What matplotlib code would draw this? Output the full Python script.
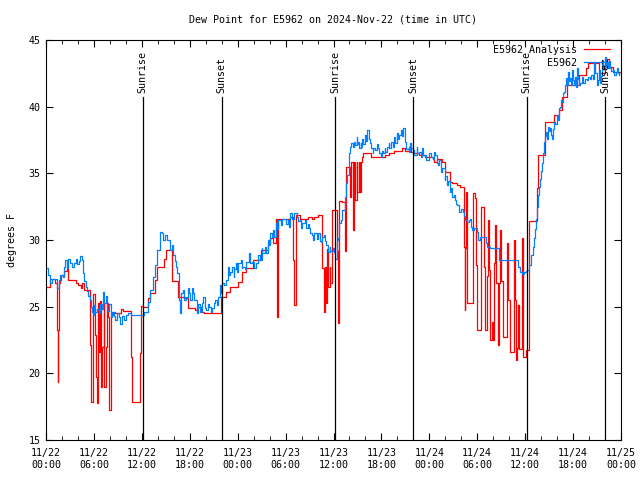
import matplotlib
matplotlib.use("Agg")
import matplotlib.pyplot as plt
from matplotlib.ticker import MultipleLocator

plt.rcParams["font.family"] = "DejaVu Sans Mono"
plt.rcParams["font.size"] = 7.2

# hours since 2024-11-22 00:00 UTC
obs_hours = [
    0.0, 0.3, 0.5, 0.8, 1.2, 1.4, 1.6, 1.8, 2.1, 2.3, 2.4, 2.6, 2.8, 3.0, 3.3, 3.5, 3.7, 3.9,
    4.1, 4.3, 4.5, 4.6, 4.8, 5.0, 5.1, 5.3, 5.5, 5.6, 5.8, 5.9, 6.0, 6.1, 6.4, 6.6, 6.8, 7.0,
    7.1, 7.3, 7.5, 7.7, 7.9, 8.1, 8.3, 8.5, 8.7, 8.9, 9.2, 9.3, 9.5, 9.8, 10.0, 10.3, 10.6,
    11.0, 11.8, 12.3, 12.5, 12.75, 13.0, 13.4, 13.6, 13.9, 14.25, 14.5, 14.6, 14.9, 15.1,
    15.5, 15.75, 15.9, 16.1, 16.25, 16.4, 16.6, 16.75, 16.9, 17.1, 17.25, 17.5, 17.75, 17.9,
    18.0, 18.25, 18.4, 18.5, 18.9, 19.0, 19.25, 19.5, 19.6, 19.9, 20.0, 20.25, 20.4, 20.6,
    20.75, 21.0, 21.1, 21.4, 21.5, 21.75, 21.9, 22.0, 22.1, 22.25, 22.5, 22.75, 22.9, 23.1,
    23.25, 23.5, 23.6, 23.75, 23.9, 24.1, 24.4, 24.5, 24.6, 24.9, 25.1, 25.4, 25.5, 25.75,
    26.0, 26.25, 26.5, 26.6, 26.75, 27.0, 27.1, 27.4, 27.5, 27.75, 27.9, 28.1, 28.25, 28.4,
    28.5, 28.75, 29.0, 29.1, 29.4, 29.5, 29.75, 30.0, 30.25, 30.4, 30.6, 30.75, 31.0, 31.1,
    31.4, 31.5, 31.75, 31.9, 32.1, 32.4, 32.5, 32.75, 32.9, 33.0, 33.25, 33.4, 33.6, 33.9,
    34.0, 34.25, 34.4, 34.5, 34.75, 34.9, 35.1, 35.25, 35.5, 35.6, 35.9, 36.1, 36.25, 36.4,
    36.5, 36.6, 36.75, 37.0, 37.1, 37.4, 37.6, 37.75, 37.9, 38.0, 38.1, 38.25, 38.5, 38.6,
    38.75, 38.9, 39.0, 39.1, 39.25, 39.4, 39.5, 39.6, 39.75, 40.0, 40.1, 40.25, 40.4, 40.6,
    40.75, 40.9, 41.0, 41.25, 41.4, 41.6, 41.75, 41.9, 42.1, 42.25, 42.4, 42.5, 42.75, 42.9,
    43.0, 43.25, 43.4, 43.6, 43.75, 44.0, 44.1, 44.25, 44.5, 44.6, 44.75, 44.9, 45.0, 45.1,
    45.4, 45.5, 45.6, 45.75, 46.0, 46.1, 46.4, 46.5, 46.75, 46.9, 47.1, 47.25, 47.5, 47.6,
    47.9, 48.0, 48.25, 48.5, 48.6, 48.75, 48.9, 49.1, 49.25, 49.5, 49.6, 49.9, 50.0, 50.25,
    50.4, 50.6, 50.75, 50.9, 51.1, 51.25, 51.4, 51.5, 51.75, 52.0, 52.25, 52.4, 52.5, 52.75,
    53.0, 53.1, 53.25, 53.4, 53.6, 53.75, 54.0, 54.1, 54.4, 54.5, 54.9, 55.1, 55.25, 55.6,
    56.4, 56.75, 59.0, 59.1, 59.4, 59.6, 59.9, 60.1, 60.25, 60.5, 60.75, 61.0, 61.1, 61.25,
    61.4, 61.5, 61.6, 61.75, 61.9, 62.0, 62.1, 62.25, 62.4, 62.5, 62.6, 62.75, 62.9, 63.0,
    63.1, 63.25, 63.4, 63.5, 63.6, 63.75, 64.0, 64.1, 64.25, 64.4, 64.5, 64.6, 64.75, 64.9,
    65.0, 65.1, 65.25, 65.4, 65.5, 65.6, 65.75, 65.9, 66.0, 66.1, 66.25, 66.4, 66.5, 66.6,
    66.75, 66.9, 67.1, 67.25, 67.5, 67.75, 67.9, 68.1, 68.25, 68.5, 68.6, 68.75, 68.9, 69.0,
    69.1, 69.25, 69.4, 69.5, 69.6, 69.75, 69.9, 70.0, 70.1, 70.25, 70.4, 70.5, 70.6, 70.75,
    71.0, 71.1, 71.4, 71.5, 71.6, 71.75,
]
obs_dewpt = [
    27.9, 27.4, 26.8, 27.1, 27.1, 26.4, 27.0, 27.4, 27.2, 28.0, 28.5, 27.9, 28.6, 28.3, 28.0, 28.3, 28.6, 28.2,
    28.4, 28.8, 28.5, 27.5, 26.9, 26.5, 26.2, 25.8, 25.5, 25.0, 24.6, 24.4, 25.1, 24.6, 24.8, 24.5, 25.2, 24.8,
    26.1, 25.3, 25.8, 24.7, 25.2, 24.2, 24.6, 24.3, 24.0, 24.5, 24.2, 23.7, 24.3, 24.0, 24.4, 24.5, 24.4,
    24.4, 24.4, 24.6, 24.6, 25.35, 26.25, 27.2, 28.1, 29.25, 30.6, 30.5, 30.0, 30.4, 30.0,
    29.25, 29.6, 28.9, 28.4, 28.0, 27.5, 25.5, 24.5, 26.0, 26.25, 25.5, 25.75, 26.4, 26.0,
    25.5, 26.4, 26.0, 25.5, 24.5, 25.2, 24.6, 25.3, 25.75, 24.9, 24.75, 25.2, 25.0, 24.6,
    24.9, 25.3, 25.5, 25.1, 25.75, 26.6, 26.0, 26.1, 26.8, 26.6, 27.0, 28.0, 27.4, 27.6,
    28.0, 27.25, 27.8, 28.25, 27.6, 28.25, 28.5, 27.9, 28.0, 27.8, 28.35, 29.0, 28.3, 28.35,
    27.9, 28.25, 28.6, 28.9, 28.5, 29.4, 29.0, 29.5, 29.0, 30.0, 29.6, 30.5, 30.2, 30.75,
    30.2, 31.25, 30.8, 31.5, 31.1, 31.6, 31.6, 31.2, 31.5, 31.0, 32.0, 31.6, 31.75, 32.0,
    31.75, 31.4, 31.5, 30.9, 31.25, 31.5, 30.9, 31.2, 30.9, 30.5, 30.4, 30.0, 30.5, 30.1,
    30.5, 29.9, 29.85, 30.2, 30.4, 29.9, 29.6, 29.1, 29.5, 29.2, 29.4, 29.1, 28.6, 29.4,
    30.0, 30.15, 31.25, 31.5, 32.25, 33.2, 34.25, 34.9, 35.4, 36.5, 37.0, 37.3, 37.0, 37.35,
    37.1, 37.7, 37.2, 37.35, 36.9, 37.3, 37.0, 37.6, 37.2, 37.9, 37.4, 38.25, 37.6, 37.3,
    36.9, 36.5, 36.9, 36.75, 37.2, 36.9, 36.5, 36.2, 36.7, 36.5, 36.9, 36.6, 37.0, 37.3,
    36.9, 37.35, 37.0, 37.7, 37.3, 38.0, 37.6, 37.9, 38.25, 37.8, 38.4, 37.8, 37.35, 36.8,
    37.0, 36.6, 37.3, 36.9, 36.75, 36.4, 37.0, 36.5, 36.6, 36.2, 36.9, 36.4, 36.4, 36.0,
    36.2, 36.5, 36.2, 36.1, 36.6, 36.4, 35.8, 35.6, 36.0, 35.1, 35.4, 34.5, 34.8, 34.1,
    34.4, 33.6, 33.9, 33.2, 33.4, 33.0, 32.7, 32.6, 32.1, 32.3, 32.1, 31.8, 31.5, 31.35,
    31.5, 31.6, 31.0, 30.75, 30.9, 30.9, 30.6, 30.0, 30.25, 30.25, 30.25, 29.8, 29.5, 29.4,
    29.4, 28.5, 28.5, 28.0, 27.6, 27.45, 27.6, 27.7, 27.75, 28.1, 28.9, 29.5, 30.15, 30.8,
    31.6, 32.5, 33.4, 34.0, 34.6, 35.2, 35.8, 36.5, 37.35, 37.8, 38.1, 37.6, 38.5, 38.2,
    38.4, 37.9, 37.6, 38.3, 38.85, 38.7, 39.4, 39.0, 39.9, 40.0, 40.5, 40.35, 41.0, 41.1,
    41.6, 42.15, 41.6, 42.6, 41.9, 42.15, 41.6, 42.75, 42.0, 41.6, 42.2, 41.5, 42.9, 42.1,
    41.6, 41.8, 42.2, 41.8, 42.1, 42.0, 42.2, 42.1, 42.4, 42.1, 43.35, 42.5, 42.5, 41.6,
    42.0, 42.75, 41.8, 42.3, 43.5, 42.8, 42.9, 43.7, 43.0, 43.35, 42.9, 43.4, 42.9, 42.7,
    42.75, 42.4, 42.6, 42.9, 42.5, 42.4,
]

ana_hours = [
    0.0, 0.5, 1.1, 1.35, 1.45, 1.55, 1.65, 1.75, 1.9, 2.2, 2.6, 2.75, 3.8, 3.95, 4.4, 4.5, 4.7,
    5.5, 5.6, 5.9, 6.1, 6.2, 6.35, 6.5, 6.6, 6.8, 6.9, 7.0, 7.2, 7.3, 7.5, 7.7, 7.8, 7.9, 8.1,
    8.4, 8.6, 9.4, 9.7, 10.6, 10.75, 11.75, 11.9, 12.1, 12.75, 13.0, 13.6, 13.9, 14.75, 15.0,
    15.75, 16.5, 17.4, 17.75, 18.6, 18.9, 19.4, 19.75, 21.9, 22.6, 23.0, 24.0, 24.6, 25.0,
    25.9, 26.9, 27.75, 28.0, 28.4, 28.75, 28.9, 29.0, 29.1, 30.6, 30.9, 31.0, 31.3, 31.75,
    32.75, 33.25, 33.6, 34.0, 34.5, 34.6, 34.75, 34.9, 35.0, 35.15, 35.3, 35.5, 35.6, 35.75,
    36.4, 36.5, 36.6, 36.7, 37.1, 37.4, 37.6, 38.0, 38.1, 38.25, 38.45, 38.6, 38.75, 38.9,
    39.0, 39.15, 39.3, 39.4, 39.6, 39.75, 40.75, 42.4, 43.0, 43.6, 44.6, 45.0, 45.5, 45.75,
    46.1, 46.75, 47.5, 48.5, 48.6, 49.0, 49.6, 50.0, 50.6, 50.9, 51.5, 51.9, 52.4, 52.45,
    52.5, 52.6, 52.75, 53.5, 53.75, 53.9, 54.0, 54.5, 54.9, 55.0, 55.25, 55.4, 55.5, 55.6,
    55.9, 56.0, 56.1, 56.25, 56.4, 56.6, 56.75, 56.9, 57.0, 57.25, 57.75, 57.9, 58.1, 58.6,
    58.75, 58.9, 59.0, 59.1, 59.25, 59.6, 59.75, 60.1, 60.5, 61.5, 61.6, 62.5, 63.6, 64.25,
    64.6, 65.25, 66.75, 67.6, 67.9, 69.25, 70.0, 70.25, 70.5, 71.0, 72.0,
]
ana_dewpt = [
    26.5, 27.1, 26.8, 23.25, 19.35, 23.25, 26.8, 27.0, 27.4, 27.7, 28.0, 27.0, 26.8, 26.6, 26.4, 26.8, 26.25,
    22.1, 17.85, 25.95, 22.9, 19.7, 17.8, 25.3, 21.6, 25.4, 19.0, 22.0, 25.3, 19.0, 22.0, 25.3, 24.2, 17.25, 24.4,
    24.6, 24.5, 24.8, 24.7, 21.2, 17.85, 21.5, 25.05, 25.0, 25.65, 26.0, 27.0, 28.0, 28.6, 29.25,
    26.9, 25.75, 25.65, 24.9, 24.75, 25.0, 24.6, 24.5, 25.75, 26.1, 26.5, 26.85, 27.6, 27.9,
    28.5, 29.25, 29.75, 30.15, 29.75, 31.6, 24.2, 27.95, 31.6, 31.75, 28.5, 25.1, 31.85, 31.6,
    31.75, 31.6, 31.75, 31.85, 31.75, 27.9, 24.6, 28.0, 25.3, 29.3, 26.5, 28.0, 26.8, 32.25,
    32.25, 29.2, 23.75, 32.9, 32.85, 29.2, 35.5, 35.5, 33.2, 35.85, 30.75, 35.85, 33.0, 35.85,
    33.6, 35.85, 33.6, 35.85, 36.2, 36.5, 36.2, 36.4, 36.5, 36.7, 36.9, 36.7, 36.9, 36.6,
    36.5, 36.4, 36.2, 36.1, 35.85, 36.1, 35.85, 35.1, 34.35, 34.25, 34.1, 34.0, 29.5, 24.75,
    29.4, 33.6, 25.3, 33.5, 33.15, 28.1, 23.25, 32.5, 28.0, 23.25, 27.3, 31.5, 27.75, 22.5,
    23.85, 22.5, 28.25, 31.1, 26.8, 22.1, 26.8, 30.75, 26.9, 22.7, 29.75, 25.5, 21.6, 30.0,
    25.5, 21.0, 21.9, 25.1, 21.8, 30.15, 21.2, 21.75, 31.4, 33.9, 36.4, 38.85, 39.4, 39.75,
    40.7, 41.6, 42.4, 42.9, 43.3, 42.5, 43.0, 43.6, 43.0, 42.6, 42.6,
]

sun_hours = [12.1, 22.0, 36.2, 46.0, 60.2, 70.0]
sun_labels = ["Sunrise", "Sunset", "Sunrise", "Sunset", "Sunrise", "Sunset"]

tick_hours = [0, 6, 12, 18, 24, 30, 36, 42, 48, 54, 60, 66, 72]
tick_labels = ["11/22\n00:00", "11/22\n06:00", "11/22\n12:00", "11/22\n18:00",
               "11/23\n00:00", "11/23\n06:00", "11/23\n12:00", "11/23\n18:00",
               "11/24\n00:00", "11/24\n06:00", "11/24\n12:00", "11/24\n18:00",
               "11/25\n00:00"]

fig = plt.figure(figsize=(6.4, 4.8), dpi=100)
ax = fig.add_axes([46 / 640, 40 / 480, 575 / 640, 400 / 480])

ax.plot(ana_hours, ana_dewpt, color="#ff0000", lw=0.9, drawstyle="steps-post",
        label="E5962 Analysis")
ax.plot(obs_hours, obs_dewpt, color="#0080ff", lw=0.9, drawstyle="steps-post",
        label="E5962")

for h, lab in zip(sun_hours, sun_labels):
    ax.plot([h, h], [0, 0.857], color="black", lw=0.9, transform=ax.get_xaxis_transform())
    ax.text(h, 0.868, lab, rotation=90, ha="center", va="bottom",
            transform=ax.get_xaxis_transform())

ax.set_xlim(0, 72)
ax.set_ylim(15, 45)
ax.set_xticks(tick_hours)
ax.set_xticklabels(tick_labels)
ax.xaxis.set_minor_locator(MultipleLocator(2))
ax.yaxis.set_major_locator(MultipleLocator(5))
ax.tick_params(which="both", direction="in", top=True, right=True)
ax.tick_params(which="major", length=5, pad=6)
ax.tick_params(which="minor", length=3)
ax.tick_params(axis="y", pad=4)

ax.set_ylabel("degrees F", labelpad=8)
fig.text(333 / 640, 1 - 20 / 480, "Dew Point for E5962 on 2024-Nov-22 (time in UTC)",
         ha="center", va="center")

ax.legend(loc="upper right", bbox_to_anchor=(0.99, 1.0), frameon=False, markerfirst=False,
          handlelength=2.6, handletextpad=0.7, labelspacing=0.3, borderaxespad=0.1)

fig.savefig("out.png", dpi=100)
